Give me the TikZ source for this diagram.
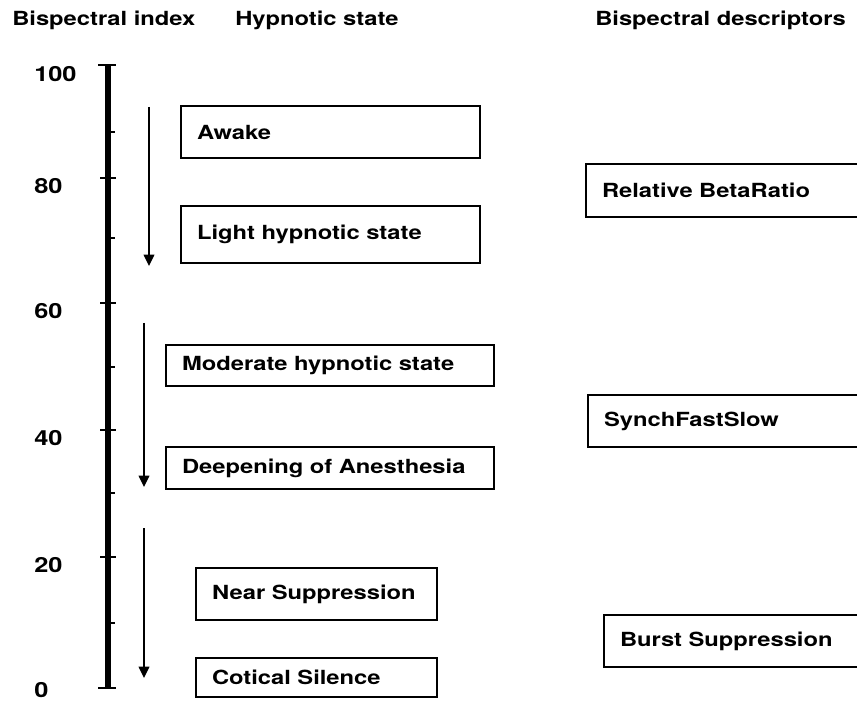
\documentclass[tikz,border=0pt]{standalone}
\usepackage{fontspec}
\setmainfont{TeX Gyre Heros}[FakeStretch=1.22]
\usetikzlibrary{arrows.meta}

\begin{document}
\begin{tikzpicture}[x=0.75pt,y=-0.75pt]
\tikzset{
  figfont/.style={font=\fontsize{14.6}{17}\selectfont\bfseries},
  headlabel/.style={figfont,anchor=base west,inner sep=0pt},
  ticklabel/.style={font=\fontsize{15.6}{18}\selectfont\bfseries,anchor=west,inner sep=0pt},
  statebox/.style={figfont,draw=black,line width=0.8pt,inner xsep=12pt,inner ysep=0pt,align=left},
  indexaxis/.style={draw=black,line width=4.2pt},
  axiscap/.style={draw=black,line width=1.2pt},
  tickmark/.style={draw=black,line width=0.9pt},
  stagearrow/.style={draw=black,line width=1.1pt,-{Triangle[length=8.5pt,width=8pt]}}
}
\useasboundingbox (0,0) rectangle (857,702);
\clip (0,0) rectangle (857,702);
% headings
\node[headlabel] (h_index) at (12,26) {Bispectral index};
\node[headlabel] (h_state) at (235,26) {Hypnotic state};
\node[headlabel] (h_desc) at (595,26) {Bispectral descriptors};
% index scale
\draw[indexaxis] (108,65) -- (108,688);
\draw[axiscap] (98,65) -- (116,65);
\draw[axiscap] (98,688) -- (116,688);
\draw[tickmark] (100,178) -- (116,178);
\draw[tickmark] (100,303) -- (116,303);
\draw[tickmark] (100,430) -- (116,430);
\draw[tickmark] (100,557) -- (116,557);
\draw[tickmark] (108,132) -- (115,132);
\draw[tickmark] (108,238) -- (115,238);
\draw[tickmark] (108,367) -- (115,367);
\draw[tickmark] (108,493) -- (115,493);
\draw[tickmark] (108,623) -- (115,623);
\node[ticklabel] (t100) at (34,74) {100};
\node[ticklabel] (t80) at (34,186) {80};
\node[ticklabel] (t60) at (34,311) {60};
\node[ticklabel] (t40) at (34,438) {40};
\node[ticklabel] (t20) at (34,565) {20};
\node[ticklabel] (t0) at (34,690) {0};
% hypnotic states
\node[statebox,text width=200.25pt,minimum height=39pt] (awake) at (330.5,132) {Awake};
\node[statebox,text width=200.25pt,minimum height=42.75pt] (light) at (330.5,234.5) {Light hypnotic state};
\node[statebox,text width=222pt,minimum height=30.75pt] (moderate) at (330,365.5) {Moderate hypnotic state};
\node[statebox,text width=222pt,minimum height=31.5pt] (deepening) at (330,468) {Deepening of Anesthesia};
\node[statebox,text width=156.75pt,minimum height=39pt] (nearsupp) at (316.5,594) {Near Suppression};
\node[statebox,text width=156.75pt,minimum height=29.25pt] (silence) at (316.5,677.5) {Cotical Silence};
% descriptors
\node[statebox,text width=196.5pt,minimum height=39.75pt] (betaratio) at (733,190.5) {Relative BetaRatio};
\node[statebox,text width=195pt,minimum height=39pt] (synch) at (734,421) {SynchFastSlow};
\node[statebox,text width=183pt,minimum height=39pt] (burst) at (742,641) {Burst Suppression};
% direction of deepening
\coordinate (a1_top) at (149,107);
\coordinate (a1_end) at (149,266);
\coordinate (a2_top) at (144,323);
\coordinate (a2_end) at (144,487);
\coordinate (a3_top) at (144,528);
\coordinate (a3_end) at (144,678);
\draw[stagearrow] (a1_top) -- (a1_end);
\draw[stagearrow] (a2_top) -- (a2_end);
\draw[stagearrow] (a3_top) -- (a3_end);
\end{tikzpicture}
\end{document}
